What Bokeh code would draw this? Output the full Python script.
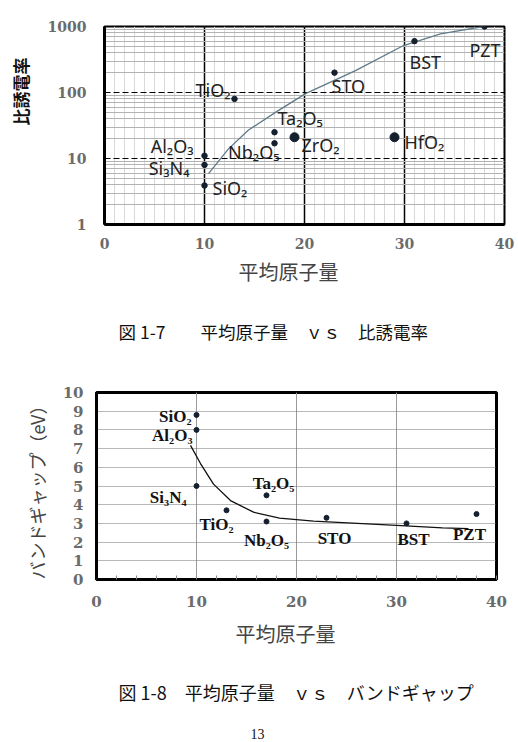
import math
from bokeh.plotting import figure
from bokeh.models import ColumnDataSource, FixedTicker, Range1d, Title
from bokeh.layouts import column
from bokeh.embed import file_html
from bokeh.resources import INLINE
from bokeh.core.properties import value

# ---------------- data: chart 1 (relative permittivity) ----------------
materials_k = ["TiO₂", "Al₂O₃", "Si₃N₄", "SiO₂", "Nb₂O₅", "Ta₂O₅", "ZrO₂", "HfO₂", "STO", "BST", "PZT"]
mass_k = [13, 10, 10, 10, 17, 17, 19, 29, 23, 31, 38]
eps_k = [80, 11, 8, 3.9, 17, 25, 21, 21, 200, 600, 1000]
fit_mass_k = [10.4, 12.4, 14.4, 17.1, 20.1, 25.1, 29.9, 33.6, 37.9]
fit_eps_k = [5.9, 14, 27, 50, 96, 215, 515, 774, 1000]

# ---------------- data: chart 2 (band gap) ----------------
materials_g = ["SiO₂", "Al₂O₃", "Si₃N₄", "TiO₂", "Ta₂O₅", "Nb₂O₅", "STO", "BST", "PZT"]
mass_g = [10, 10, 10, 13, 17, 17, 23, 31, 38]
gap_g = [8.8, 8.0, 5.0, 3.7, 4.5, 3.1, 3.3, 3.0, 3.5]
fit_mass_g = [9.4, 10.4, 11.7, 13.4, 15.7, 18.3, 21.7, 30.0, 34.6, 37.2]
fit_gap_g = [7.17, 6.2, 5.1, 4.22, 3.6, 3.28, 3.12, 2.89, 2.76, 2.72]

x_ticks = [0, 10, 20, 30, 40]
y_ticks_k = [1, 10, 100, 1000]
y_ticks_g = list(range(0, 11))

# ---------------- styles (offsets / sizes) ----------------
lab_dx_k = [-4, -11, -15, 8, 5, 3, 7, 10, -3, -5, -15]
lab_dy_k = [-9, -10, 3, 3, 9, -14, 8, 5, 13, 21, 23]
lab_al_k = ["right", "right", "right", "left", "right", "left", "left", "left", "left", "left", "left"]
dot_k = [5.5, 5.5, 5.5, 5.5, 5.5, 5.5, 9, 9, 5.5, 5.5, 5.5]

lab_dx_g = [-5, -4, -10, 7, 7, 0, 8, 7, -7]
lab_dy_g = [2, 6, 11, 14, -12, 19, 21, 16, 20]
lab_al_g = ["right", "right", "right", "right", "center", "center", "center", "center", "center"]

DOT = "#15202e"
TICK_COLOR = "#6b6b6b"
CJK = "Noto Sans CJK JP"


def title(text, align, offset, standoff, size, color="#111111", style="normal", font=CJK,
          valign="bottom"):
    return Title(text=text, align=align, offset=offset, standoff=standoff,
                 vertical_align=valign, text_font=font, text_font_size=size,
                 text_font_style=style, text_color=color)


# ================= chart 1 =================
p1 = figure(width=518, height=373, x_range=Range1d(0, 40), y_range=Range1d(1, 1000),
            y_axis_type="log", output_backend="svg", toolbar_location=None,
            min_border_left=104, min_border_right=14, min_border_top=26, min_border_bottom=149)
p1.background_fill_color = "white"
p1.border_fill_color = "white"
p1.outline_line_color = "black"
p1.outline_line_width = 2

p1.xaxis.ticker = FixedTicker(ticks=x_ticks, minor_ticks=list(range(0, 41)))
minor_log = [m * 10 ** d for d in range(0, 3) for m in range(2, 10)]
p1.yaxis.ticker = FixedTicker(ticks=y_ticks_k, minor_ticks=minor_log)
p1.yaxis.major_label_overrides = {1: "1", 10: "10", 100: "100", 1000: "1000"}

for ax in (p1.xaxis[0], p1.yaxis[0]):
    ax.axis_line_color = "black"
    ax.axis_line_width = 3
    ax.major_tick_in = 0
    ax.major_tick_out = 0
    ax.minor_tick_in = 0
    ax.minor_tick_out = 0
    ax.major_label_text_font = "DejaVu Serif"
    ax.major_label_text_font_style = "bold"
    ax.major_label_text_font_size = "14px"
    ax.major_label_text_color = TICK_COLOR
p1.xaxis.major_label_standoff = 13
p1.yaxis.major_label_standoff = 18

# y axis title (leading ideographic spaces lift the centred text towards the top, as in the original)
p1.yaxis.axis_label = "　　　　比誘電率"
p1.yaxis.axis_label_standoff = 12
p1.yaxis.axis_label_text_font = CJK
p1.yaxis.axis_label_text_font_style = "bold"
p1.yaxis.axis_label_text_font_size = "17px"
p1.yaxis.axis_label_text_color = "#111111"

p1.xgrid.grid_line_color = "black"
p1.xgrid.grid_line_width = 1.5
p1.xgrid.minor_grid_line_color = "#d9d9d9"
p1.xgrid.minor_grid_line_width = 1
p1.ygrid.grid_line_color = "black"
p1.ygrid.grid_line_width = 1.2
p1.ygrid.grid_line_dash = "6 3"
p1.ygrid.minor_grid_line_color = "#b3b3b3"
p1.ygrid.minor_grid_line_width = 1

p1.line(fit_mass_k, fit_eps_k, line_color="#5f7a88", line_width=1.3)
src1 = ColumnDataSource(dict(x=mass_k, y=eps_k, t=materials_k, dx=lab_dx_k, dy=lab_dy_k,
                             al=lab_al_k, s=dot_k))
p1.scatter("x", "y", size="s", source=src1, fill_color=DOT, line_color=DOT)
p1.text("x", "y", text="t", x_offset="dx", y_offset="dy", text_align="al",
        text_baseline="middle", text_font=value("Noto Sans"), text_font_size="18px",
        text_color="#222222", source=src1)

p1.add_layout(title("平均原子量", "left", 134, 6, "20px", color="#444444"), "below")
p1.add_layout(title("図 1-7　　平均原子量　ｖｓ　比誘電率", "left", 14, 56, "17.5px"), "below")

# ================= chart 2 =================
# the canvas is shifted 8px left so that its frame (at 104px in the canvas) sits at 96px on the page
p2 = figure(width=518, height=369, x_range=Range1d(0, 40), y_range=Range1d(0, 10),
            output_backend="svg", toolbar_location=None,
            min_border_left=104, min_border_right=13, min_border_top=19, min_border_bottom=163)
p2.styles = {"transform": "translateX(-8px)"}
p2.background_fill_color = "white"
p2.border_fill_color = "white"
p2.outline_line_color = "black"
p2.outline_line_width = 3

p2.xaxis.ticker = FixedTicker(ticks=x_ticks, minor_ticks=list(range(0, 41, 2)))
p2.yaxis.ticker = FixedTicker(ticks=y_ticks_g)
for ax in (p2.xaxis[0], p2.yaxis[0]):
    ax.axis_line_color = "black"
    ax.axis_line_width = 3
    ax.major_tick_in = 0
    ax.major_tick_out = 0
    ax.minor_tick_out = 0
    ax.major_label_text_font = "DejaVu Serif"
    ax.major_label_text_font_style = "bold"
    ax.major_label_text_font_size = "15px"
    ax.major_label_text_color = TICK_COLOR
p2.xaxis.minor_tick_in = 4
p2.xaxis.minor_tick_line_color = "#888888"
p2.yaxis.minor_tick_in = 0
p2.xaxis.major_label_standoff = 16
p2.yaxis.major_label_standoff = 13

p2.xgrid.grid_line_color = "#9a9a9a"
p2.xgrid.grid_line_width = 1
p2.ygrid.grid_line_color = "#707070"
p2.ygrid.grid_line_width = 1
p2.ygrid.grid_line_dash = "1 1"

p2.line(fit_mass_g, fit_gap_g, line_color="#111111", line_width=1.3)
src2 = ColumnDataSource(dict(x=mass_g, y=gap_g, t=materials_g, dx=lab_dx_g, dy=lab_dy_g, al=lab_al_g))
p2.scatter("x", "y", size=5, source=src2, fill_color=DOT, line_color=DOT)
p2.text("x", "y", text="t", x_offset="dx", y_offset="dy", text_align="al",
        text_baseline="middle", text_font=value("Liberation Serif"), text_font_style="bold",
        text_font_size="17px", text_color="#111111", source=src2)

p2.add_layout(title("平均原子量", "left", 139, 15, "20px", color="#444444"), "below")
p2.add_layout(title("図 1-8　平均原子量　ｖｓ　バンドギャップ", "left", 22, 43, "18px"), "below")
p2.add_layout(title("13", "left", 154, 0, "14px", font="Liberation Serif"), "below")
p2.add_layout(title("バンドギャップ（eV）", "left", 0, 16, "18px", color="#444444", valign="top"), "left")

layout = column(p1, p2, spacing=0)
open("out.html", "w").write(file_html(layout, INLINE))
